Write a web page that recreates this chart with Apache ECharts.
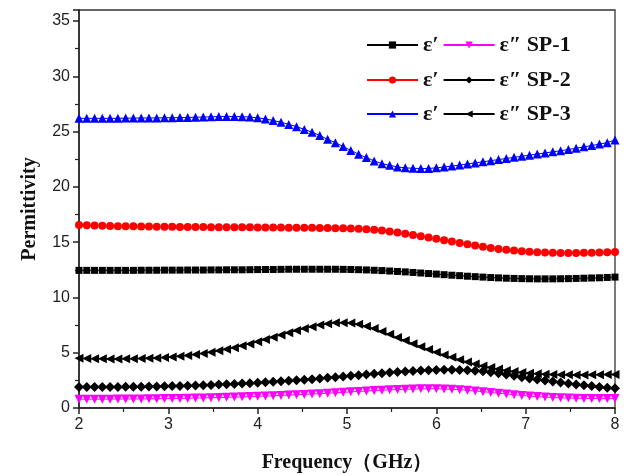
<!DOCTYPE html>
<html>
<head>
<meta charset="utf-8">
<script src="https://cdn.jsdelivr.net/npm/echarts@6/dist/echarts.min.js"></script>
<style>
html,body{margin:0;padding:0;background:#fff;}
#chart{width:628px;height:475px;}
</style>
</head>
<body>
<div id="chart"></div>
<script>
// Frequency (GHz)
var freq = [2.000,2.087,2.174,2.261,2.348,2.435,2.522,2.609,2.696,2.783,2.870,2.957,3.043,3.130,3.217,3.304,3.391,3.478,3.565,3.652,3.739,3.826,3.913,4.000,4.087,4.174,4.261,4.348,4.435,4.522,4.609,4.696,4.783,4.870,4.957,5.043,5.130,5.217,5.304,5.391,5.478,5.565,5.652,5.739,5.826,5.913,6.000,6.087,6.174,6.261,6.348,6.435,6.522,6.609,6.696,6.783,6.870,6.957,7.043,7.130,7.217,7.304,7.391,7.478,7.565,7.652,7.739,7.826,7.913,8.000];

var sp1Real = [12.45,12.45,12.45,12.45,12.45,12.45,12.45,12.45,12.46,12.46,12.46,12.47,12.47,12.47,12.48,12.48,12.48,12.49,12.49,12.5,12.5,12.5,12.51,12.52,12.53,12.53,12.54,12.55,12.55,12.55,12.55,12.55,12.55,12.55,12.54,12.53,12.51,12.49,12.46,12.43,12.39,12.35,12.31,12.26,12.21,12.16,12.11,12.06,12.01,11.97,11.92,11.88,11.84,11.8,11.77,11.74,11.72,11.7,11.69,11.68,11.68,11.68,11.69,11.7,11.72,11.74,11.76,11.78,11.81,11.84];
var sp1Imag = [0.8,0.8,0.8,0.8,0.8,0.81,0.81,0.82,0.82,0.83,0.84,0.85,0.86,0.87,0.88,0.9,0.91,0.93,0.95,0.97,0.99,1.01,1.03,1.06,1.08,1.11,1.14,1.17,1.2,1.23,1.27,1.3,1.34,1.38,1.42,1.46,1.5,1.54,1.58,1.61,1.64,1.67,1.7,1.72,1.73,1.74,1.74,1.72,1.69,1.65,1.6,1.54,1.48,1.41,1.34,1.27,1.2,1.14,1.08,1.03,0.99,0.95,0.92,0.9,0.88,0.87,0.86,0.85,0.85,0.85];
var sp2Real = [16.55,16.53,16.5,16.48,16.46,16.45,16.44,16.43,16.42,16.41,16.4,16.4,16.39,16.38,16.38,16.37,16.37,16.36,16.36,16.35,16.35,16.34,16.34,16.33,16.33,16.32,16.32,16.31,16.31,16.3,16.3,16.29,16.28,16.27,16.26,16.24,16.21,16.17,16.12,16.05,15.97,15.87,15.77,15.65,15.53,15.42,15.3,15.18,15.05,14.93,14.81,14.7,14.59,14.48,14.39,14.31,14.24,14.18,14.13,14.09,14.06,14.04,14.03,14.03,14.03,14.04,14.05,14.06,14.08,14.1];
var sp2Imag = [1.9,1.9,1.9,1.9,1.91,1.91,1.92,1.92,1.93,1.94,1.95,1.96,1.98,2.0,2.02,2.04,2.06,2.09,2.12,2.15,2.18,2.21,2.25,2.29,2.33,2.37,2.41,2.46,2.51,2.56,2.61,2.67,2.73,2.79,2.85,2.91,2.97,3.03,3.09,3.15,3.2,3.25,3.3,3.35,3.39,3.42,3.44,3.45,3.45,3.44,3.42,3.38,3.32,3.24,3.14,3.03,2.91,2.78,2.67,2.57,2.48,2.39,2.3,2.21,2.13,2.05,1.98,1.91,1.84,1.78];
var sp3Real = [26.2,26.2,26.2,26.2,26.2,26.2,26.22,26.22,26.23,26.23,26.24,26.25,26.26,26.27,26.28,26.3,26.32,26.34,26.36,26.37,26.37,26.35,26.32,26.25,26.15,26.0,25.85,25.65,25.45,25.2,24.95,24.65,24.3,24.0,23.65,23.3,22.95,22.65,22.35,22.1,21.95,21.8,21.72,21.68,21.66,21.67,21.72,21.8,21.88,21.97,22.07,22.17,22.27,22.37,22.47,22.57,22.67,22.77,22.87,22.97,23.07,23.17,23.27,23.38,23.5,23.62,23.74,23.87,24.0,24.25];
var sp3Imag = [4.5,4.48,4.46,4.45,4.44,4.44,4.45,4.46,4.48,4.5,4.53,4.57,4.62,4.68,4.76,4.84,4.94,5.05,5.17,5.31,5.46,5.62,5.8,5.99,6.19,6.4,6.6,6.8,7.0,7.18,7.35,7.5,7.62,7.7,7.72,7.68,7.57,7.4,7.18,6.93,6.66,6.38,6.1,5.82,5.55,5.29,5.04,4.8,4.58,4.37,4.17,3.98,3.81,3.66,3.52,3.4,3.3,3.22,3.15,3.1,3.06,3.03,3.01,3.0,2.99,2.99,3.0,3.01,3.02,3.04];

var xTicks = [2,3,4,5,6,7,8];
var yTicks = [0,5,10,15,20,25,30,35];

function pairs(ys){ return freq.map(function(x,i){ return [x, ys[i]]; }); }

var serifBold = {fontFamily:'"Liberation Serif","Times New Roman",serif', fontWeight:'bold', color:'#111'};

function mk(name, data, color, lineColor, symbol, size, rot){
  return {
    name: name, type:'line', data: pairs(data),
    symbol: symbol, symbolSize: size, symbolRotate: rot || 0,
    showAllSymbol: true,
    itemStyle:{color: color},
    lineStyle:{color: lineColor, width: 1},
    emphasis:{disabled:true}, animation:false
  };
}

var series = [
  mk('ε′ SP-1', sp1Real, '#000000', '#000000', 'rect', 7),
  mk('ε″ SP-1', sp1Imag, '#ff00ff', '#ff00ff', 'triangle', 9, 180),
  mk('ε′ SP-2', sp2Real, '#ff0000', '#ff0000', 'circle', 8),
  mk('ε″ SP-2', sp2Imag, '#000000', '#000000', 'diamond', 10),
  mk('ε′ SP-3', sp3Real, '#0000ff', '#0000ff', 'triangle', 9),
  mk('ε″ SP-3', sp3Imag, '#000000', '#000000', 'triangle', 9, 90)
];

function legendRow(names, top){
  return {
    data: names, left: 361, top: top, orient:'horizontal',
    itemWidth: 51, itemHeight: 9, itemGap: 4,
    selectedMode:false,
    textStyle: Object.assign({fontSize:22, padding:[0,0,0,0]}, serifBold),
    formatter: function(n){ return n.indexOf('ε′')===0 ? 'ε′' : n; }
  };
}

var chart = echarts.init(document.getElementById('chart'), null, {renderer:'canvas'});
chart.setOption({
  backgroundColor:'#ffffff',
  animation:false,
  grid:{left:79, right:13, top:10, bottom:67, show:true, borderColor:'#333', borderWidth:1.3,
        backgroundColor:'transparent', containLabel:false, outerBoundsMode:'none'},
  legend:[
    legendRow(['ε′ SP-1','ε″ SP-1'], 29),
    legendRow(['ε′ SP-2','ε″ SP-2'], 64),
    legendRow(['ε′ SP-3','ε″ SP-3'], 98)
  ],
  xAxis:{
    type:'value', min:2, max:8, interval:1, splitNumber:6,
    name:'Frequency（GHz）', nameLocation:'middle', nameGap:45,
    nameTextStyle: Object.assign({fontSize:20}, serifBold),
    axisLine:{show:true, onZero:false, lineStyle:{color:'#222', width:1.5}},
    axisTick:{show:true, inside:false, length:6, lineStyle:{color:'#222', width:1.5}},
    minorTick:{show:true, splitNumber:2, length:4, lineStyle:{color:'#222', width:1.2}},
    splitLine:{show:false},
    axisLabel:{fontSize:16, color:'#222', margin:9, fontFamily:'"Liberation Sans",Arial,sans-serif'}
  },
  yAxis:{
    type:'value', min:0, max:36, interval:5,
    name:'Permittivity', nameLocation:'middle', nameGap:39, nameRotate:90,
    nameTextStyle: Object.assign({fontSize:20}, serifBold),
    axisLine:{show:true, onZero:false, lineStyle:{color:'#222', width:1.5}},
    axisTick:{show:true, inside:false, length:6, lineStyle:{color:'#222', width:1.5}},
    minorTick:{show:true, splitNumber:2, length:4, lineStyle:{color:'#222', width:1.2}},
    splitLine:{show:false},
    axisLabel:{fontSize:16, color:'#222', margin:9, fontFamily:'"Liberation Sans",Arial,sans-serif',
      formatter:function(v){ return yTicks.indexOf(v)>=0 ? String(v) : ''; }}
  },
  series: series
});
</script>
</body>
</html>
